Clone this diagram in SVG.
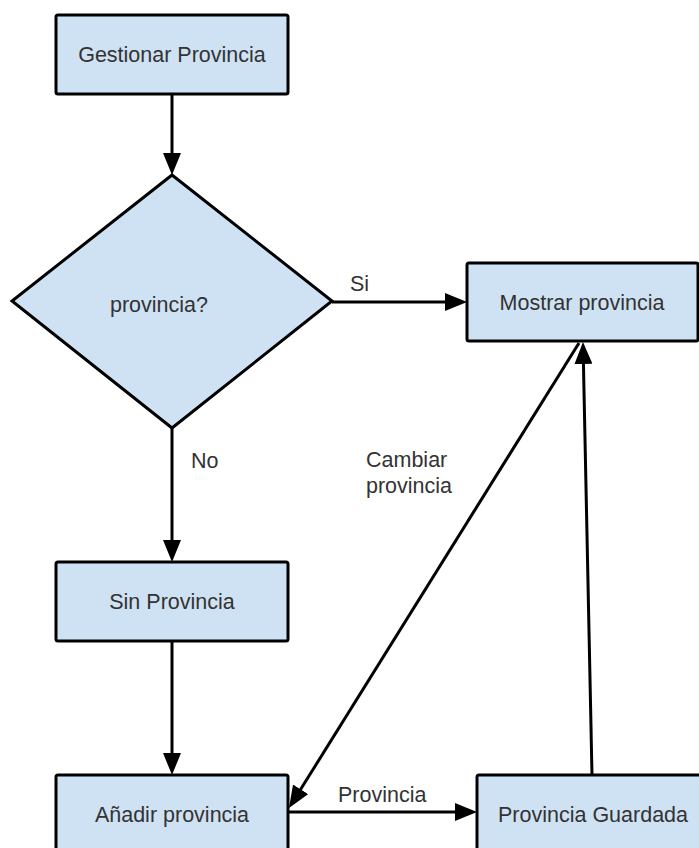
<svg xmlns="http://www.w3.org/2000/svg" width="699" height="848" viewBox="0 0 699 848">
  <style>
    .node { fill: #cfe2f3; stroke: #000; stroke-width: 3; }
    .lbl { font-family: "Liberation Sans", Arial, sans-serif; font-size: 21.5px; fill: #333; }
    .c { text-anchor: middle; }
    .edge { stroke: #000; stroke-width: 3; fill: none; marker-end: url(#ah); }
  </style>
  <defs>
    <marker id="ah" viewBox="0 0 22 18" refX="12" refY="9" markerWidth="22" markerHeight="18" markerUnits="userSpaceOnUse" orient="auto">
      <path d="M0,0 L22,9 L0,18 z" fill="#000"/>
    </marker>
  </defs>
  <rect width="699" height="848" fill="#fff"/>
  <g id="connectors">
    <line class="edge" x1="172" y1="94" x2="172" y2="165"/>
    <line class="edge" x1="332" y1="302" x2="457" y2="302"/>
    <line class="edge" x1="172" y1="428" x2="172" y2="552"/>
    <line class="edge" x1="172" y1="641" x2="172" y2="765"/>
    <line class="edge" x1="288" y1="812" x2="467" y2="812"/>
    <line class="edge" x1="592" y1="775" x2="583.2" y2="352"/>
    <line class="edge" x1="579" y1="343" x2="294.3" y2="799.5"/>
    <text class="lbl" x="350" y="291">Si</text>
    <text class="lbl" x="191" y="468">No</text>
    <text class="lbl" x="366" y="467">Cambiar</text>
    <text class="lbl" x="366" y="493">provincia</text>
    <text class="lbl" x="338" y="802">Provincia</text>
  </g>
  <g id="gestionar">
    <rect class="node" x="56" y="15" width="232" height="79" rx="2"/>
    <text class="lbl c" x="172" y="62">Gestionar Provincia</text>
  </g>
  <g id="decision">
    <polygon class="node" points="172,175 332,301 172,428 12,301" stroke-linejoin="miter"/>
    <text class="lbl c" x="159" y="312">provincia?</text>
  </g>
  <g id="mostrar">
    <rect class="node" x="467" y="263" width="231" height="78" rx="2"/>
    <text class="lbl c" x="582" y="310">Mostrar provincia</text>
  </g>
  <g id="sin">
    <rect class="node" x="56" y="562" width="232" height="79" rx="2"/>
    <text class="lbl c" x="172" y="609">Sin Provincia</text>
  </g>
  <g id="anadir">
    <rect class="node" x="56" y="775" width="232" height="79" rx="2"/>
    <text class="lbl c" x="172" y="822">Añadir provincia</text>
  </g>
  <g id="guardada">
    <rect class="node" x="477" y="775" width="232" height="79" rx="2"/>
    <text class="lbl c" x="593" y="822">Provincia Guardada</text>
  </g>
</svg>
